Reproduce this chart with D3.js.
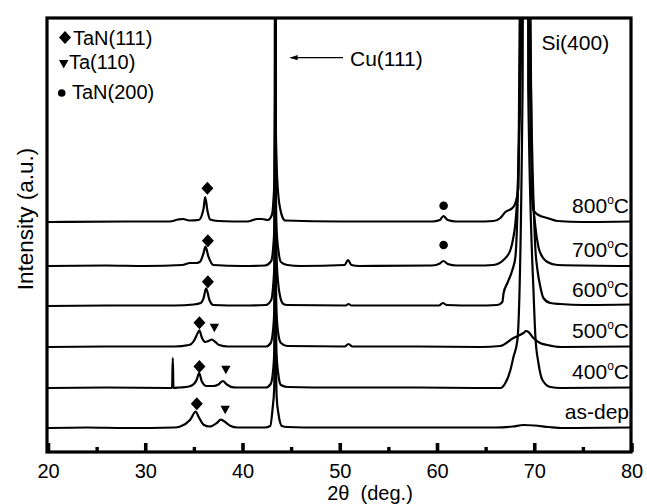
<!DOCTYPE html>
<html><head><meta charset="utf-8">
<script src="https://cdn.jsdelivr.net/npm/d3@7"></script>
<style>
body{margin:0;background:#fff}
text{font-family:"Liberation Sans",Arial,Helvetica,sans-serif;fill:#000}
</style>
</head><body>
<svg id="chart" width="647" height="504"></svg>
<script>
// ---------- data ----------
const sampleLabels = ["as-dep", "400", "500", "600", "700", "800"];
const sampleOffsets = [24, 64, 105, 146, 186, 230];   // vertical stacking offset (a.u.)
const xTicks = [20, 30, 40, 50, 60, 70, 80];
const xMinorTicks = [25, 35, 45, 55, 65, 75];

const asDep = [[20,0],[24,0.5],[28,0],[33,0.5],[33.6,1.5],[34.6,8],[35.2,16.5],[35.47,11.5],[36.0,3.3],[36.6,1.5],[37.36,5],[37.77,8.3],[38.11,6.7],[38.73,2.3],[39.5,0.5],[42.3,0.5],[42.85,2],[43.1,20],[43.25,38],[43.34,120],[43.37,900],[43.4,120],[43.52,30],[43.7,14],[44.05,2],[44.6,1],[48,0.5],[55,0.5],[64,0.5],[66,0.5],[67.8,1.5],[68.9,3],[70,2.5],[71.5,1],[73,0],[80,0.5]];
const t400 = [[20,0],[26,0.5],[32.6,0],[32.76,0],[32.83,30],[32.9,0],[33.5,0.5],[34.5,1.5],[35.0,4],[35.3,8.5],[35.54,15],[35.82,6.5],[36.3,2],[37.0,2],[37.53,3.5],[37.98,7],[38.39,3.5],[39.07,0.7],[40,0.5],[42.4,0.5],[42.9,4],[43.15,18],[43.27,38],[43.34,120],[43.37,900],[43.4,120],[43.5,35],[43.68,14],[43.95,3],[44.6,1],[50,0.5],[58,0.5],[64,0],[66.52,0],[67.03,5],[67.55,18],[67.86,31],[68.27,48],[68.8,300],[69.08,3000],[69.38,300],[69.95,90],[70.12,51],[70.43,25],[70.84,8],[71.66,1],[72.7,0],[80,0.5]];
const t500 = [[20,0],[27,0.5],[33,0.5],[34.5,2],[35.0,6],[35.3,12],[35.57,16.7],[35.8,10],[36.16,5],[36.5,6],[36.85,7.5],[37.15,5.5],[37.6,2],[38.5,0.5],[42.4,0.5],[42.9,4],[43.15,18],[43.27,38],[43.34,120],[43.37,900],[43.4,120],[43.5,35],[43.7,12],[43.95,4],[44.6,1],[50.5,0.5],[50.9,3],[51.3,0.5],[58,0.5],[64.5,0],[66.5,1],[67.86,9],[68.89,14],[69.15,16],[69.4,15],[69.91,9],[70.6,4],[71.35,2],[72.7,0],[80,0.5]];
const t600 = [[20,0],[27,0.5],[33,0.5],[35,1.5],[35.7,3],[35.99,7.7],[36.26,17.7],[36.6,6],[37.0,1],[40,0.5],[42.4,1],[42.95,6],[43.15,20],[43.27,40],[43.34,120],[43.37,900],[43.4,120],[43.52,45],[43.7,20],[43.88,9],[44.2,2],[44.6,1],[50.6,0.5],[50.9,2],[51.2,0.5],[60.2,0.5],[60.6,3],[61,1],[64,0.5],[66.21,1],[66.72,4],[66.85,13],[67.24,23],[67.75,36],[68.06,49],[68.6,300],[69.08,3000],[69.55,300],[70.1,60],[70.33,36],[70.63,19],[70.94,8],[71.66,3],[72.69,2],[75,1],[80,1.5]];
const t700 = [[20,0],[26,0.5],[30,0],[33.8,1],[34.6,3],[35.3,3],[35.64,4.3],[35.99,12.7],[36.19,19.3],[36.5,9.3],[37.0,1],[40,0],[42.3,0.5],[42.95,5],[43.15,18],[43.27,38],[43.34,120],[43.37,900],[43.4,120],[43.5,38],[43.7,15],[43.95,4],[44.6,1],[46,0],[50.5,1],[50.85,6],[51.2,1],[52,0],[59.5,0.5],[60.3,2.5],[60.65,5],[61.1,2],[62,0.5],[64,0.5],[65.8,1],[66.83,6],[67.55,16],[67.86,29],[68.06,43],[68.3,80],[68.75,300],[69.08,3000],[69.42,300],[69.8,80],[70.12,39],[70.43,19],[70.84,9],[71.35,4],[72.38,1],[80,0]];
const t800 = [[20,0],[28,0.5],[32.5,0.5],[33.4,2.5],[33.9,3],[34.5,1.5],[35.5,2],[35.99,13],[36.16,25],[36.4,11],[36.67,2.5],[37.5,1],[40.5,0.5],[41.5,3],[42,3],[42.6,2],[43.02,7],[43.17,20],[43.27,40],[43.34,120],[43.37,900],[43.4,120],[43.52,55],[43.7,25],[43.88,13],[44.1,5],[44.4,1.5],[50,0.5],[59.5,0.5],[60.3,2],[60.65,6],[61.1,2],[62,0.5],[64,0.5],[65.8,1],[66.52,4],[67.03,10],[67.75,14],[68.06,19],[68.37,34],[68.5,200],[69.05,3000],[69.62,200],[69.75,30],[69.91,12],[70.43,7],[71.35,4],[72.38,1],[75,0],[80,0.5]];
const patterns = [asDep, t400, t500, t600, t700, t800];

// peak markers: [sample index, 2theta, height above that pattern's baseline]
const tanDiamonds = [[5,36.39,33.7],[4,36.44,25.3],[3,36.44,24.3],[2,35.57,24.3],[1,35.57,21.6],[0,35.3,24.3]];
const taTriangles = [[2,37.11,19.3],[1,38.29,18.3],[0,38.22,18.3]];
const tan200Circles = [[5,60.68,16.3],[4,60.68,21]];

const legendItems = ["TaN(111)", "Ta(110)", "TaN(200)"];

// ---------- drawing ----------
const svg = d3.select("#chart");
const L = 47, R = 631, T = 18, B = 452;
const x = d3.scaleLinear().domain([20, 80]).range([48, 631.5]);
const y = d3.scaleLinear().domain([0, 434]).range([B, T]);

svg.append("defs").append("clipPath").attr("id","clip")
  .append("rect").attr("x", L).attr("y", T).attr("width", R - L).attr("height", B - T);

const line = d3.line().x(d => x(d[0])).y(d => y(d[1])).curve(d3.curveMonotoneX);
const g = svg.append("g").attr("clip-path","url(#clip)");
patterns.forEach((p, i) => {
  const off = sampleOffsets[i];
  g.append("path")
    .datum(p.map(d => [d[0], d[1] + off]))
    .attr("d", line)
    .attr("fill","none").attr("stroke","#000")
    .attr("stroke-width", 2.2).attr("stroke-linejoin","round");
});

// markers
const diamondPath = "M0,-6.5L6,0L0,6.5L-6,0Z";
const triPath = "M-4.7,-4L4.7,-4L0,4.5Z";
tanDiamonds.forEach(m => {
  svg.append("path").attr("d", diamondPath)
    .attr("transform", `translate(${x(m[1])},${y(sampleOffsets[m[0]] + m[2])})`).attr("fill","#000");
});
taTriangles.forEach(m => {
  svg.append("path").attr("d", triPath)
    .attr("transform", `translate(${x(m[1])},${y(sampleOffsets[m[0]] + m[2])})`).attr("fill","#000");
});
tan200Circles.forEach(m => {
  svg.append("circle").attr("cx", x(m[1])).attr("cy", y(sampleOffsets[m[0]] + m[2])).attr("r", 4.3).attr("fill","#000");
});

// frame
svg.append("rect").attr("x", L).attr("y", T).attr("width", R - L).attr("height", B - T)
  .attr("fill","none").attr("stroke","#000").attr("stroke-width", 3.2);

// x axis
const ax = svg.append("g").attr("transform", `translate(0,${B})`)
  .call(d3.axisBottom(x).tickValues(xTicks).tickSizeInner(-9).tickSizeOuter(0).tickPadding(12).tickFormat(d3.format("d")));
ax.select(".domain").remove();
ax.selectAll(".tick line").attr("stroke-width", 3.6);
ax.selectAll(".tick text").style("font-size","20px").attr("fill","#000");
const axm = svg.append("g").attr("transform", `translate(0,${B})`)
  .call(d3.axisBottom(x).tickValues(xMinorTicks).tickSizeInner(-5).tickSizeOuter(0).tickFormat(""));
axm.select(".domain").remove();
axm.selectAll(".tick line").attr("stroke-width", 3.4);

// axis titles
svg.append("text").attr("x", 370).attr("y", 500).attr("text-anchor","middle")
  .style("font-size","20px").style("white-space","pre").text("2θ  (deg.)");
svg.append("text").attr("transform","translate(33,219) rotate(-90)").attr("text-anchor","middle")
  .style("font-size","22.5px").text("Intensity (a.u.)");

// sample labels
sampleLabels.forEach((lab, i) => {
  const t = svg.append("text").attr("x", 629).attr("y", y(sampleOffsets[i]) - 9)
    .attr("text-anchor","end").style("font-size","21px");
  if (lab === "as-dep") { t.text(lab); }
  else {
    t.append("tspan").text(lab);
    t.append("tspan").text("o").style("font-size","12px").attr("dy", -9);
    t.append("tspan").text("C").attr("dy", 9);
  }
});

// legend
const legY = [44.5, 69, 99];
svg.append("path").attr("d", diamondPath).attr("transform","translate(65,37.5)").attr("fill","#000");
svg.append("path").attr("d", triPath).attr("transform","translate(63.7,64)").attr("fill","#000");
svg.append("circle").attr("cx", 61.7).attr("cy", 93).attr("r", 3.8).attr("fill","#000");
const legX = [73, 69, 72];
legendItems.forEach((s, i) => {
  svg.append("text").attr("x", legX[i]).attr("y", legY[i]).style("font-size","20px").text(s);
});

// peak annotations
svg.append("text").attr("x", x(70.74)).attr("y", 50).style("font-size","21px").text("Si(400)");
svg.append("line").attr("x1", x(44.95)).attr("x2", 343).attr("y1", 57.7).attr("y2", 57.7)
  .attr("stroke","#000").attr("stroke-width", 1.3);
svg.append("path").attr("d", `M${x(44.95)-1},57.7l8,-2.6l0,5.2Z`).attr("fill","#000");
svg.append("text").attr("x", 350).attr("y", 65.5).style("font-size","21px").text("Cu(111)");
</script>
</body></html>
